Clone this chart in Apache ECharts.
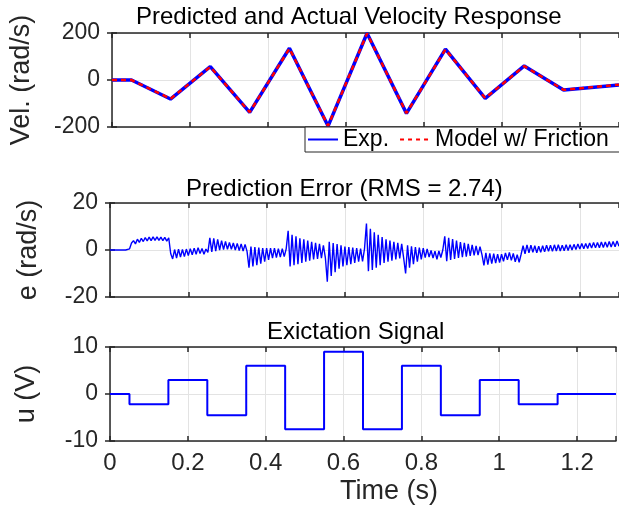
<!DOCTYPE html>
<html>
<head>
<meta charset="utf-8">
<script src="https://cdn.jsdelivr.net/npm/echarts@6/dist/echarts.min.js"></script>
<style>html,body{margin:0;padding:0;background:#fff;}#c{width:619px;height:513px;}</style>
</head>
<body>
<div id="c"></div>
<script>
// ---- data ----
const velTime = [0, 0.05, 0.15, 0.252, 0.353, 0.455, 0.554, 0.654, 0.755, 0.855, 0.957, 1.057, 1.158, 1.3];
const velExp = [0, 0, -81, 57, -138, 135, -196, 199, -142, 131, -78, 60, -43, -21];
const velModel = [0, 0, -80, 56, -137, 134, -195, 198, -141, 130, -77, 59, -42, -20];

const errStart = 0, errStep = 0.005;
const errValues = [
  0,0,0,0,0,0,0,0,0,0,
  0.5,3,4.0,2.6,4.6,3.2,5.0,3.6,5.3,3.9,
  5.5,4.0,5.6,4.1,5.6,4.1,5.5,4.0,5.4,3.8,
  5.2,-1.5,-3.8,0.2,-3.4,0.4,-3.0,0.2,-2.8,0.4,
  -2.4,0.6,-2.0,0.8,-1.8,1.0,-1.5,0.6,-1.8,0.4,
  -1.0,5.2,-0.8,5.0,-0.5,4.5,0.0,4.0,0.2,3.6,
  0.3,3.2,0.3,3.0,0.0,2.8,-0.2,2.6,-0.4,2.4,
  -0.6,-7.5,1.5,-7.0,1.2,-6.5,1.0,-5.8,0.8,-5.0,
  0.8,-4.2,0.8,-3.5,0.8,-3.2,0.6,-3.0,0.6,-2.8,
  0.5,8.2,-7.0,6.5,-6.5,5.8,-6.0,5.0,-5.5,4.5,
  -5.0,4.0,-4.5,3.5,-4.0,3.0,-3.8,2.6,-3.5,2.0,
  -3.2,-13.5,3.5,-11.0,3.0,-9.5,2.5,-8.0,2.0,-7.0,
  1.5,-6.5,1.2,-6.0,1.0,-5.5,0.8,-5.0,0.6,-4.8,
  0.5,11.3,-9.0,9.0,-8.5,7.5,-7.5,6.5,-6.5,5.5,
  -5.5,4.5,-5.0,4.0,-4.5,3.5,-4.0,3.0,-3.6,2.6,
  -3.4,-10.0,2.0,-7.5,1.6,-6.0,1.2,-5.0,1.0,-4.0,
  0.8,-3.2,0.5,-3.0,-0.2,-3.4,-0.5,-4.0,-0.4,-3.2,
  0.0,5.8,-4.8,5.2,-4.2,4.6,-3.8,4.0,-3.4,3.4,
  -3.0,3.0,-2.8,2.6,-2.5,2.2,-2.3,1.8,-2.2,1.4,
  -2.0,-6.5,-1.2,-6.2,-1.4,-5.8,-1.6,-5.6,-1.8,-5.4,
  -1.8,-4.8,-1.2,-4.2,-1.0,-4.4,-1.5,-5.0,-2.0,-5.2,
  -1.8,1.8,-1.6,2.2,-1.2,2.0,-1.0,1.8,-1.2,1.6,
  -1.0,1.8,-0.8,2.0,-0.6,2.0,-0.6,2.2,-0.4,2.2,
  -0.4,2.0,-0.3,2.2,-0.2,2.2,0.0,2.4,0.2,2.6,
  0.4,2.8,0.5,2.8,0.6,3.0,0.8,3.2,0.9,3.2,
  1.0,3.4,1.1,3.4,1.2,3.6,1.3,3.6,1.4,3.8,
  1.6
];

const uTime = [0, 0.05, 0.15, 0.25, 0.35, 0.45, 0.55, 0.65, 0.75, 0.85, 0.95, 1.05, 1.15, 1.3];
const uValues = [0, -2.2, 3, -4.5, 6, -7.5, 9, -7.5, 6, -4.5, 3, -2.2, 0, 0];

const xTickLabels = ['0', '0.2', '0.4', '0.6', '0.8', '1', '1.2'];
const titles = ['Predicted and Actual Velocity Response', 'Prediction Error (RMS = 2.74)', 'Exictation Signal'];
const yNames = ['Vel. (rad/s)', 'e (rad/s)', 'u (V)'];
const yRanges = [[-200, 200, 200], [-20, 20, 20], [-10, 10, 10]];

// ---- build ----
const FONT = 'Liberation Sans, Arial, Helvetica, sans-serif';
const AX = '#262626';
const GRIDC = '#e3e3e3';
const grids = [
  {left: 110, right: 0, top: 33, height: 94},
  {left: 110, right: 0, top: 203, height: 94},
  {left: 110, right: 0, top: 347, height: 94}
];
const velData = velTime.map((t, i) => [t, velExp[i]]);
const modData = velTime.map((t, i) => [t, velModel[i]]);
const errData = errValues.map((v, i) => [errStart + i * errStep, v]);
const uData = uTime.map((t, i) => [t, uValues[i]]);

const xAxes = [];
const yAxes = [];
for (let g = 0; g < 3; g++) {
  xAxes.push({
    type: 'value', gridIndex: g, min: 0, max: 1.3, interval: 0.2, position: 'bottom',
    axisLine: {show: true, onZero: false, lineStyle: {color: AX, width: 1.5}},
    axisTick: {show: true, inside: true, length: 5, lineStyle: {color: AX, width: 1.5}},
    splitLine: {show: true, lineStyle: {color: GRIDC, width: 1}},
    axisLabel: {
      show: g === 2, fontSize: 24, color: AX, fontFamily: FONT, margin: 10,
      formatter: v => { const k = Math.round(v / 0.2); return (Math.abs(v - k * 0.2) < 1e-6 && k < xTickLabels.length) ? xTickLabels[k] : ''; }
    }
  });
}
for (let g = 0; g < 3; g++) {
  xAxes.push({
    type: 'value', gridIndex: g, min: 0, max: 1.3, interval: 0.2, position: 'top',
    axisLine: {show: true, onZero: false, lineStyle: {color: AX, width: 1.5}},
    axisTick: {show: true, inside: true, length: 5, lineStyle: {color: AX, width: 1.5}},
    splitLine: {show: false}, axisLabel: {show: false}
  });
}
const nameGaps = [77, 68, 70];
for (let g = 0; g < 3; g++) {
  yAxes.push({
    type: 'value', gridIndex: g, min: yRanges[g][0], max: yRanges[g][1], interval: yRanges[g][2],
    position: 'left',
    name: yNames[g], nameLocation: 'middle', nameGap: nameGaps[g], nameRotate: 90,
    nameTextStyle: {fontSize: 27, color: AX, fontFamily: FONT},
    axisLine: {show: true, onZero: false, lineStyle: {color: AX, width: 1.5}},
    axisTick: {show: true, inside: true, length: 5, lineStyle: {color: AX, width: 1.5}},
    splitLine: {show: true, lineStyle: {color: GRIDC, width: 1}},
    axisLabel: {fontSize: 23, color: AX, fontFamily: FONT, margin: 12}
  });
}
for (let g = 0; g < 3; g++) {
  yAxes.push({
    type: 'value', gridIndex: g, min: yRanges[g][0], max: yRanges[g][1], interval: yRanges[g][2],
    position: 'right',
    axisLine: {show: false},
    axisTick: {show: true, inside: true, length: 5, lineStyle: {color: AX, width: 1.5}},
    splitLine: {show: false}, axisLabel: {show: false}
  });
}

const titleLeft = [136, 186, 267];
const titleTop = [5, 177, 320];
const titleArr = titles.map((t, i) => ({
  text: t, left: titleLeft[i], top: titleTop[i], padding: 0,
  textStyle: {fontSize: 24, fontWeight: 'normal', color: '#000', fontFamily: FONT}
}));
titleArr.push({
  text: 'Time (s)', left: 340, top: 478, padding: 0,
  textStyle: {fontSize: 27, fontWeight: 'normal', color: AX, fontFamily: FONT}
});

const option = {
  animation: false,
  backgroundColor: '#fff',
  title: titleArr,
  grid: grids,
  xAxis: xAxes,
  yAxis: yAxes,
  legend: {
    data: [
      {name: 'Exp.', itemStyle: {opacity: 0}, lineStyle: {width: 2, color: '#0000ff', type: 'solid'}},
      {name: 'Model w/ Friction', itemStyle: {opacity: 0}, lineStyle: {width: 2, color: '#ff0000', type: [4, 4]}}
    ],
    left: 305, top: 127, width: 500, orient: 'horizontal',
    backgroundColor: '#fff', borderColor: AX, borderWidth: 1,
    padding: [1, 12, 1, 2], itemGap: 10, itemWidth: 30, itemHeight: 14,
    textStyle: {fontSize: 23, color: '#000', fontFamily: FONT}
  },
  series: [
    {name: 'Exp.', type: 'line', xAxisIndex: 0, yAxisIndex: 0, data: velData, symbol: 'none',
     lineStyle: {color: '#0000ff', width: 3.5}, itemStyle: {color: '#0000ff'}},
    {name: 'Model w/ Friction', type: 'line', xAxisIndex: 0, yAxisIndex: 0, data: modData, symbol: 'none',
     lineStyle: {color: '#ff0000', width: 2.5, type: [5, 4]}, itemStyle: {color: '#ff0000'}},
    {name: 'err', type: 'line', xAxisIndex: 1, yAxisIndex: 1, data: errData, symbol: 'none',
     lineStyle: {color: '#0000ff', width: 1.4}},
    {name: 'u', type: 'line', xAxisIndex: 2, yAxisIndex: 2, data: uData, symbol: 'none', step: 'end',
     lineStyle: {color: '#0000ff', width: 2}}
  ]
};
const chart = echarts.init(document.getElementById('c'), null, {renderer: 'canvas'});
chart.setOption(option);
</script>
</body>
</html>
